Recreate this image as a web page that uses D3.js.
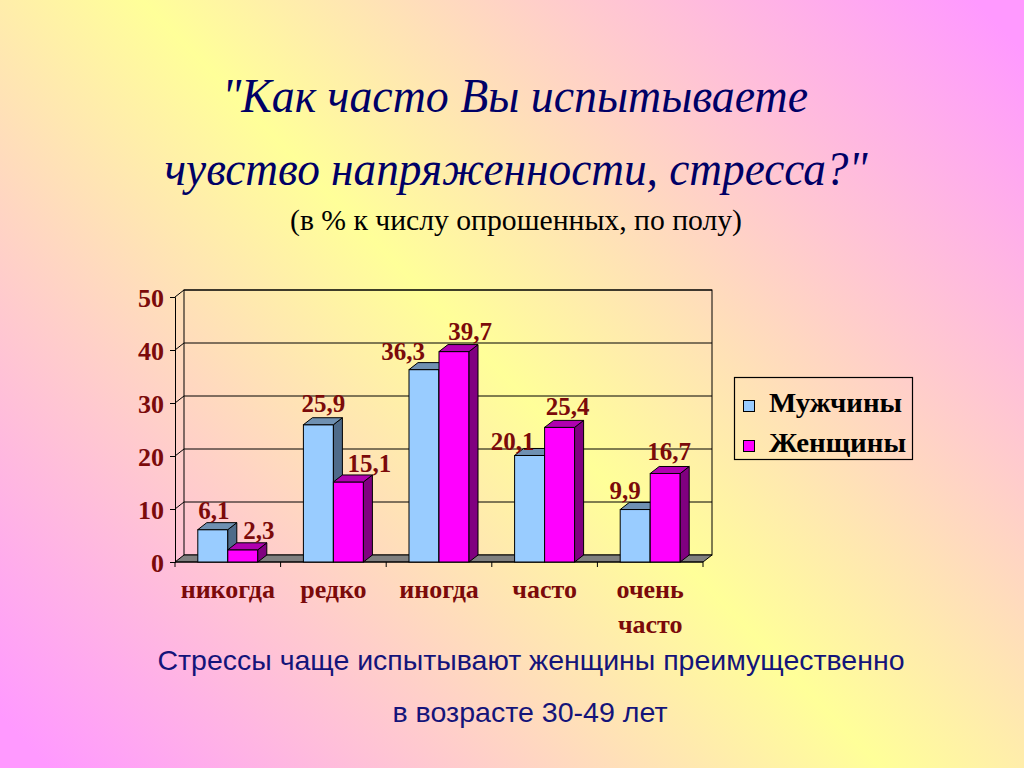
<!DOCTYPE html>
<html><head><meta charset="utf-8">
<script src="https://cdn.jsdelivr.net/npm/d3@7"></script>
<style>html,body{margin:0;padding:0;overflow:hidden;}svg{display:block;}</style>
</head><body>
<svg id="c" width="1024" height="768"></svg>
<script>
const categories = [["никогда"], ["редко"], ["иногда"], ["часто"], ["очень", "часто"]];
const seriesNames = ["Мужчины", "Женщины"];
const men = [6.1, 25.9, 36.3, 20.1, 9.9];
const women = [2.3, 15.1, 39.7, 25.4, 16.7];
const yTicks = [0, 10, 20, 30, 40, 50];
const valueLabels = [["6,1", "25,9", "36,3", "20,1", "9,9"], ["2,3", "15,1", "39,7", "25,4", "16,7"]];
// label nudges (layout only)
const labelNudgeMen = [[1, 0], [5, -2], [-21, 1], [-17, 6], [-10, 0]];
const labelNudgeWomen = [[16, 0], [21, 1], [16, -1], [8, -1], [4, -2]];

const svg = d3.select("#c");
const W = 1024, H = 768;
const defs = svg.append("defs");
const g1 = defs.append("linearGradient").attr("id", "bg")
  .attr("gradientUnits", "userSpaceOnUse")
  .attr("x1", 80).attr("y1", 800).attr("x2", 944).attr("y2", -32);
g1.append("stop").attr("offset", "0").attr("stop-color", "#ff99ff");
g1.append("stop").attr("offset", "0.5").attr("stop-color", "#ffff99");
g1.append("stop").attr("offset", "1").attr("stop-color", "#ff99ff");
svg.append("rect").attr("width", W).attr("height", H).attr("fill", "url(#bg)");

function fit(sel, w) {
  const n = sel.node().getComputedTextLength();
  if (Math.abs(n - w) > 2) sel.attr("textLength", w).attr("lengthAdjust", "spacingAndGlyphs");
  return sel;
}

// Title
const tFont = "'Liberation Serif','DejaVu Serif',serif";
fit(svg.append("text").attr("x", 515).attr("y", 112).attr("text-anchor", "middle")
  .attr("font-family", tFont).attr("font-style", "italic").attr("font-size", 48).attr("fill", "#000066")
  .text("\"Как часто Вы испытываете"), 586);
fit(svg.append("text").attr("x", 516).attr("y", 185).attr("text-anchor", "middle")
  .attr("font-family", tFont).attr("font-style", "italic").attr("font-size", 48).attr("fill", "#000066")
  .text("чувство напряженности, стресса?\""), 703);
fit(svg.append("text").attr("x", 516).attr("y", 230).attr("text-anchor", "middle")
  .attr("font-family", tFont).attr("font-size", 29).attr("fill", "#000000")
  .text("(в % к числу опрошенных, по полу)"), 452);

// Chart geometry
const x = d3.scaleBand().domain(d3.range(categories.length)).range([175, 703]).padding(0);
const y = d3.scaleLinear().domain([0, 50]).range([562, 297]);
const DX = 9, DY = 7, BW = 30;
const maroon = "#7b0a0a";
const serif = "'Liberation Serif','Times New Roman',serif";
const chart = svg.append("g");

// back wall
chart.append("rect").attr("x", 175 + DX).attr("y", y(50) - DY)
  .attr("width", 528).attr("height", y(0) - y(50))
  .attr("fill", "none").attr("stroke", "#000").attr("stroke-width", 1);
// gridlines (back wall + side wall)
yTicks.filter(t => t > 0).forEach(t => {
  chart.append("line").attr("x1", 175 + DX).attr("x2", 703 + DX)
    .attr("y1", y(t) - DY).attr("y2", y(t) - DY).attr("stroke", "#000").attr("stroke-width", 1);
  chart.append("line").attr("x1", 175).attr("x2", 175 + DX)
    .attr("y1", y(t)).attr("y2", y(t) - DY).attr("stroke", "#000").attr("stroke-width", 1);
});
// floor
chart.append("polygon")
  .attr("points", [[175, y(0)], [703, y(0)], [703 + DX, y(0) - DY], [175 + DX, y(0) - DY]].map(p => p.join(",")).join(" "))
  .attr("fill", "#808080").attr("stroke", "#000").attr("stroke-width", 1);

// y axis
const yAxis = d3.axisLeft(y).tickValues(yTicks).tickSize(5).tickFormat(d3.format("d"));
const ya = chart.append("g").attr("transform", "translate(175,0)").call(yAxis);
ya.select(".domain").attr("stroke", "#000");
ya.selectAll(".tick line").attr("stroke", "#000");
ya.selectAll(".tick text").attr("font-family", serif).attr("font-weight", "bold")
  .attr("font-size", 26).attr("fill", maroon).attr("x", -11).attr("dy", "0.36em");

// x axis
const xa = chart.append("g").attr("transform", `translate(0,${y(0)})`);
xa.append("line").attr("x1", 175).attr("x2", 703).attr("y1", 0).attr("y2", 0).attr("stroke", "#000");
d3.range(categories.length + 1).forEach(i => {
  const xx = i < categories.length ? x(i) : 703;
  xa.append("line").attr("x1", xx).attr("x2", xx).attr("y1", 0).attr("y2", 5).attr("stroke", "#000");
});
categories.forEach((lines, i) => {
  const t = xa.append("text").attr("x", x(i) + x.bandwidth() / 2).attr("y", 36)
    .attr("text-anchor", "middle").attr("font-family", serif).attr("font-weight", "bold")
    .attr("font-size", 26).attr("fill", maroon);
  lines.forEach((l, j) => t.append("tspan").attr("x", x(i) + x.bandwidth() / 2).attr("dy", j === 0 ? 0 : 35).text(l));
});

// bars
const styles = [
  {face: "#99ccff", side: "#4f6b8a", top: "#6f90b2"},
  {face: "#ff00ff", side: "#800080", top: "#b000b0"}
];
function bar(x0, v, st) {
  const y0 = y(0), y1 = y(v);
  const g = chart.append("g");
  g.append("rect").attr("x", x0).attr("y", y1).attr("width", BW).attr("height", y0 - y1)
    .attr("fill", st.face).attr("stroke", "#000").attr("stroke-width", 1);
  g.append("polygon").attr("points", [[x0 + BW, y1], [x0 + BW + DX, y1 - DY], [x0 + BW + DX, y0 - DY], [x0 + BW, y0]].map(p => p.join(",")).join(" "))
    .attr("fill", st.side).attr("stroke", "#000").attr("stroke-width", 1);
  g.append("polygon").attr("points", [[x0, y1], [x0 + DX, y1 - DY], [x0 + BW + DX, y1 - DY], [x0 + BW, y1]].map(p => p.join(",")).join(" "))
    .attr("fill", st.top).attr("stroke", "#000").attr("stroke-width", 1);
}
const series = [men, women];
const nudges = [labelNudgeMen, labelNudgeWomen];
categories.forEach((c, i) => {
  const cx = x(i) + x.bandwidth() / 2;
  series.forEach((s, k) => {
    const x0 = k === 0 ? cx - BW : cx;
    bar(x0, s[i], styles[k]);
  });
});
categories.forEach((c, i) => {
  const cx = x(i) + x.bandwidth() / 2;
  series.forEach((s, k) => {
    const x0 = k === 0 ? cx - BW : cx;
    const n = nudges[k][i];
    chart.append("text").attr("x", x0 + BW / 2 + n[0]).attr("y", y(s[i]) - 11 + n[1])
      .attr("text-anchor", "middle").attr("font-family", serif).attr("font-weight", "bold")
      .attr("font-size", 25).attr("fill", maroon).text(valueLabels[k][i]);
  });
});

// legend
const lg = svg.append("g");
lg.append("rect").attr("x", 734.5).attr("y", 377.5).attr("width", 178).attr("height", 82)
  .attr("fill", "none").attr("stroke", "#000").attr("stroke-width", 1.2);
seriesNames.forEach((n, k) => {
  const by = 412 + k * 40;
  lg.append("rect").attr("x", 743.5).attr("y", by - 11.5).attr("width", 11).attr("height", 11)
    .attr("fill", styles[k].face).attr("stroke", "#000").attr("stroke-width", 1);
  fit(lg.append("text").attr("x", 769).attr("y", by).attr("font-family", serif).attr("font-weight", "bold")
    .attr("font-size", 27).attr("fill", "#000").text(n), k === 0 ? 133 : 137);
});

// bottom note
const sans = "'Liberation Sans',Arial,sans-serif";
fit(svg.append("text").attr("x", 531).attr("y", 670).attr("text-anchor", "middle")
  .attr("font-family", sans).attr("font-size", 28).attr("fill", "#14147a")
  .text("Стрессы чаще испытывают женщины преимущественно"), 747);
fit(svg.append("text").attr("x", 530).attr("y", 722).attr("text-anchor", "middle")
  .attr("font-family", sans).attr("font-size", 28).attr("fill", "#14147a")
  .text("в возрасте 30-49 лет"), 275);
</script>
</body></html>
